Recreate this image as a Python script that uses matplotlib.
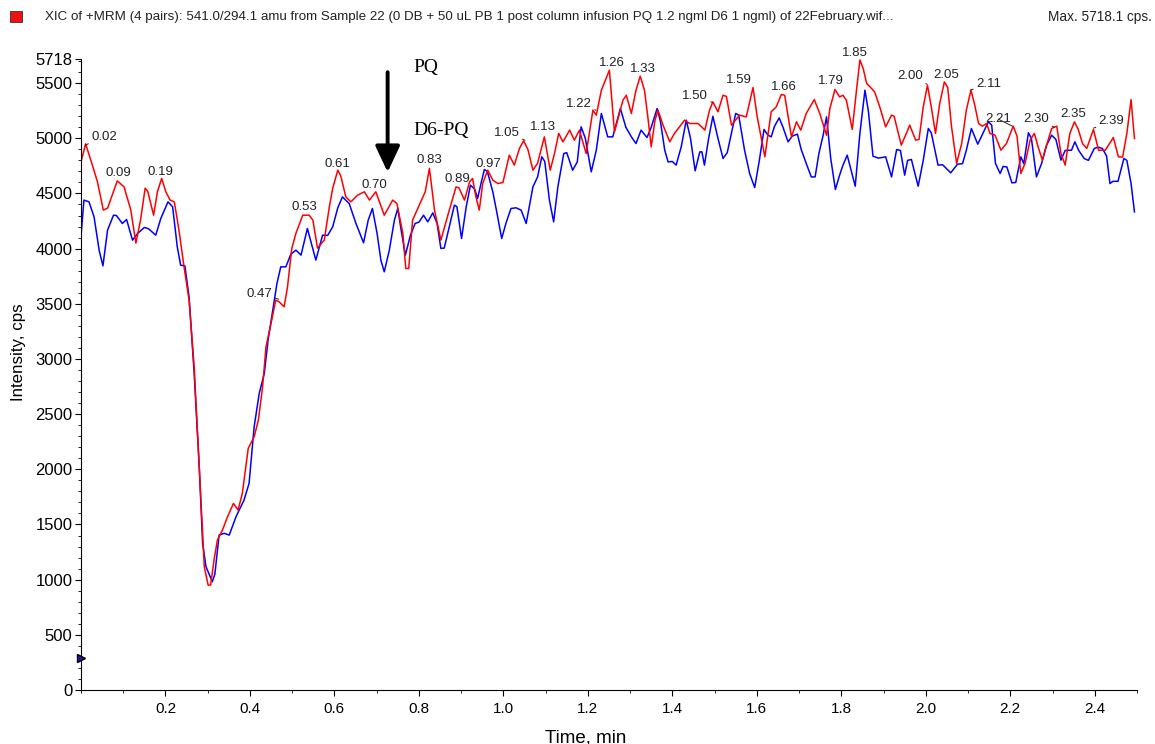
import matplotlib
matplotlib.use("Agg")
import matplotlib.pyplot as plt
from matplotlib.ticker import MultipleLocator, FixedLocator

plt.rcParams['font.family'] = ['Liberation Sans', 'DejaVu Sans']

# PQ trace (red), time in min / intensity in cps
red_t = [0.000, 0.011, 0.027, 0.039, 0.053, 0.063, 0.086, 0.102, 0.118, 0.130,
         0.141, 0.152, 0.158, 0.172, 0.181, 0.191, 0.201, 0.211, 0.221, 0.232,
         0.244, 0.256, 0.268, 0.276, 0.284, 0.292, 0.301, 0.307, 0.315, 0.323,
         0.335, 0.347, 0.361, 0.372, 0.382, 0.396, 0.410, 0.420, 0.430, 0.438,
         0.450, 0.461, 0.469, 0.481, 0.489, 0.499, 0.509, 0.525, 0.540, 0.549,
         0.560, 0.576, 0.588, 0.596, 0.608, 0.615, 0.627, 0.639, 0.655, 0.671,
         0.683, 0.698, 0.718, 0.738, 0.748, 0.762, 0.769, 0.776, 0.785, 0.801,
         0.815, 0.825, 0.837, 0.852, 0.872, 0.888, 0.895, 0.908, 0.920, 0.927,
         0.935, 0.943, 0.951, 0.963, 0.975, 0.987, 0.999, 1.014, 1.026, 1.038,
         1.048, 1.058, 1.070, 1.081, 1.097, 1.111, 1.121, 1.131, 1.141, 1.157,
         1.168, 1.180, 1.196, 1.212, 1.220, 1.232, 1.251, 1.263, 1.283, 1.291,
         1.303, 1.314, 1.324, 1.334, 1.342, 1.350, 1.359, 1.366, 1.378, 1.394,
         1.405, 1.429, 1.441, 1.461, 1.477, 1.488, 1.496, 1.508, 1.520, 1.528,
         1.540, 1.559, 1.575, 1.591, 1.601, 1.619, 1.634, 1.646, 1.658, 1.666,
         1.682, 1.694, 1.704, 1.717, 1.736, 1.749, 1.765, 1.773, 1.785, 1.796,
         1.804, 1.812, 1.826, 1.836, 1.844, 1.852, 1.860, 1.872, 1.879, 1.891,
         1.905, 1.919, 1.925, 1.942, 1.954, 1.962, 1.976, 1.984, 1.994, 2.004,
         2.013, 2.023, 2.033, 2.044, 2.052, 2.061, 2.073, 2.085, 2.096, 2.107,
         2.116, 2.125, 2.134, 2.144, 2.152, 2.164, 2.178, 2.191, 2.207, 2.216,
         2.225, 2.235, 2.247, 2.257, 2.266, 2.276, 2.286, 2.298, 2.310, 2.320,
         2.330, 2.341, 2.352, 2.361, 2.371, 2.381, 2.397, 2.409, 2.425, 2.444,
         2.456, 2.466, 2.476, 2.486, 2.494]
red_i = [4784, 4950, 4757, 4605, 4349, 4367, 4614, 4560, 4349, 4050,
         4258, 4548, 4520, 4303, 4515, 4636, 4515, 4440, 4424, 4168,
         3835, 3533, 2929, 2328, 1721, 1117, 951, 951, 1178, 1359,
         1450, 1570, 1691, 1631, 1782, 2190, 2295, 2446, 2748, 3110,
         3322, 3533, 3518, 3473, 3654, 4000, 4140, 4303, 4303, 4258,
         4005, 4077, 4379, 4548, 4711, 4660, 4469, 4424, 4485, 4515,
         4440, 4515, 4303, 4440, 4409, 4138, 3820, 3820, 4258, 4394,
         4515, 4727, 4349, 4077, 4349, 4560, 4550, 4440, 4605, 4636,
         4469, 4349, 4590, 4711, 4620, 4590, 4600, 4847, 4757, 4908,
         4977, 4900, 4711, 4774, 5013, 4711, 4862, 5044, 4968, 5074,
         4983, 5074, 4862, 5255, 5210, 5436, 5617, 5058, 5345, 5390,
         5225, 5436, 5563, 5436, 5194, 4922, 5164, 5255, 5119, 4968,
         5044, 5164, 5134, 5134, 5074, 5255, 5330, 5240, 5390, 5380,
         5119, 5210, 5194, 5460, 5194, 4832, 5240, 5285, 5397, 5390,
         5013, 5149, 5074, 5225, 5351, 5225, 5028, 5270, 5442, 5375,
         5390, 5345, 5080, 5436, 5710, 5630, 5497, 5450, 5420, 5285,
         5104, 5210, 5200, 4938, 5044, 5119, 4983, 4990, 5285, 5481,
         5285, 5044, 5315, 5511, 5460, 5104, 4772, 4953, 5255, 5436,
         5300, 5134, 5110, 5134, 5044, 5028, 4892, 4953, 5110, 5020,
         4681, 4772, 4983, 5044, 4922, 4802, 4938, 5089, 5110, 4862,
         4757, 5044, 5149, 5080, 4953, 4908, 5080, 4892, 4892, 5007,
         4832, 4830, 5044, 5351, 4998]

# D6-PQ trace (blue)
blue_t = [0.000, 0.007, 0.019, 0.031, 0.043, 0.052, 0.063, 0.077, 0.084, 0.098,
          0.108, 0.122, 0.134, 0.150, 0.160, 0.177, 0.189, 0.206, 0.217, 0.228,
          0.236, 0.246, 0.256, 0.268, 0.280, 0.288, 0.296, 0.311, 0.317, 0.327,
          0.339, 0.351, 0.367, 0.386, 0.398, 0.410, 0.422, 0.434, 0.443, 0.454,
          0.464, 0.473, 0.485, 0.497, 0.509, 0.521, 0.536, 0.551, 0.556, 0.572,
          0.584, 0.596, 0.608, 0.619, 0.635, 0.651, 0.669, 0.680, 0.690, 0.701,
          0.710, 0.718, 0.730, 0.742, 0.750, 0.758, 0.768, 0.780, 0.791, 0.800,
          0.811, 0.821, 0.833, 0.843, 0.852, 0.860, 0.872, 0.884, 0.890, 0.901,
          0.912, 0.922, 0.932, 0.939, 0.947, 0.955, 0.962, 0.975, 0.985, 0.996,
          1.006, 1.018, 1.030, 1.042, 1.054, 1.070, 1.081, 1.091, 1.098, 1.109,
          1.119, 1.129, 1.143, 1.150, 1.164, 1.175, 1.184, 1.194, 1.208, 1.220,
          1.232, 1.247, 1.259, 1.277, 1.290, 1.303, 1.314, 1.326, 1.340, 1.350,
          1.364, 1.372, 1.382, 1.390, 1.400, 1.409, 1.421, 1.433, 1.443, 1.454,
          1.465, 1.470, 1.476, 1.486, 1.496, 1.508, 1.520, 1.530, 1.550, 1.557,
          1.571, 1.583, 1.595, 1.606, 1.617, 1.626, 1.634, 1.642, 1.653, 1.662,
          1.674, 1.684, 1.696, 1.705, 1.717, 1.729, 1.738, 1.747, 1.757, 1.765,
          1.775, 1.786, 1.796, 1.804, 1.814, 1.824, 1.833, 1.844, 1.856, 1.864,
          1.875, 1.888, 1.905, 1.919, 1.931, 1.940, 1.950, 1.957, 1.966, 1.973,
          1.982, 1.994, 2.006, 2.013, 2.029, 2.040, 2.059, 2.075, 2.087, 2.096,
          2.108, 2.123, 2.131, 2.148, 2.156, 2.165, 2.176, 2.183, 2.192, 2.204,
          2.213, 2.225, 2.232, 2.243, 2.250, 2.262, 2.274, 2.286, 2.298, 2.308,
          2.320, 2.330, 2.345, 2.353, 2.362, 2.375, 2.385, 2.399, 2.408, 2.418,
          2.428, 2.436, 2.443, 2.455, 2.469, 2.476, 2.486, 2.494]
blue_i = [4107, 4440, 4424, 4288, 3986, 3844, 4168, 4303, 4300, 4228,
          4264, 4077, 4137, 4192, 4180, 4122, 4273, 4424, 4379, 4016,
          3850, 3844, 3560, 2869, 2023, 1329, 1117, 981, 1050, 1404,
          1420, 1404, 1570, 1721, 1873, 2385, 2688, 2869, 3171, 3443,
          3685, 3835, 3835, 3950, 3986, 3941, 4183, 3970, 3896, 4122,
          4120, 4198, 4370, 4469, 4409, 4228, 4053, 4258, 4364, 4138,
          3896, 3790, 3986, 4258, 4364, 4168, 3941, 4122, 4228, 4240,
          4303, 4243, 4324, 4230, 4002, 4005, 4198, 4394, 4380, 4092,
          4379, 4575, 4540, 4454, 4590, 4717, 4700, 4515, 4319, 4092,
          4228, 4364, 4370, 4349, 4228, 4560, 4650, 4832, 4790, 4440,
          4243, 4560, 4862, 4870, 4711, 4786, 5104, 5000, 4696, 4892,
          5225, 5013, 5013, 5270, 5100, 5013, 4953, 5074, 5007, 5100,
          5270, 5150, 4892, 4786, 4790, 4757, 4922, 5164, 5000, 4705,
          4877, 4877, 4757, 5000, 5200, 5000, 4817, 4870, 5225, 5210,
          4892, 4681, 4554, 4800, 5080, 5030, 5013, 5110, 5185, 5100,
          4968, 5020, 5038, 4900, 4772, 4650, 4650, 4862, 5028, 5194,
          4817, 4536, 4666, 4757, 4847, 4700, 4566, 5044, 5436, 5250,
          4838, 4820, 4832, 4650, 4898, 4890, 4666, 4800, 4808, 4700,
          4566, 4800, 5089, 5050, 4757, 4760, 4687, 4765, 4770, 4892,
          5089, 4947, 5010, 5149, 5120, 4772, 4681, 4745, 4740, 4596,
          4600, 4832, 4770, 5050, 5000, 4650, 4770, 4938, 5028, 4990,
          4802, 4890, 4892, 4968, 4890, 4817, 4800, 4908, 4920, 4908,
          4840, 4590, 4610, 4610, 4817, 4800, 4590, 4333]

# peak labels: text, text anchor (t, cps), leader target (None = no leader)
peak_labels = ["0.02", "0.09", "0.19", "0.47", "0.53", "0.61", "0.70", "0.83",
               "0.89", "0.97", "1.05", "1.13", "1.22", "1.26", "1.33", "1.50",
               "1.59", "1.66", "1.79", "1.85", "2.00", "2.05", "2.11", "2.21",
               "2.30", "2.35", "2.39"]
label_t = [0.024, 0.089, 0.188, 0.423, 0.529, 0.608, 0.695, 0.826,
           0.890, 0.965, 1.008, 1.093, 1.179, 1.257, 1.330, 1.454,
           1.558, 1.665, 1.776, 1.833, 1.963, 2.048, 2.119, 2.172,
           2.262, 2.349, 2.409]
label_i = [5010, 4684, 4693, 3588, 4376, 4766, 4575, 4802,
           4630, 4766, 5046, 5101, 5309, 5681, 5626, 5382,
           5527, 5463, 5518, 5771, 5563, 5572, 5490, 5173,
           5173, 5219, 5155]
leader_t = [0.010, None, None, 0.468, None, None, None, None,
            None, None, 1.051, 1.131, 1.219, None, None, 1.494,
            None, None, None, None, 2.003, None, 2.105, 2.205,
            2.304, None, 2.397]
leader_i = [4938, None, None, 3542, None, None, None, None,
            None, None, 4983, 5037, 5255, None, None, 5327,
            None, None, None, None, 5490, None, 5436, 5110,
            5101, None, 5092]

fig = plt.figure(figsize=(11.55, 7.44), dpi=100)
ax = fig.add_axes([0.0701, 0.0726, 0.9143, 0.848])

ax.plot(blue_t, blue_i, color='#0000ff', lw=1.1)
ax.plot(red_t, red_i, color='#ff0000', lw=1.1)

ax.set_xlim(0, 2.5)
ax.set_ylim(0, 5718)
ax.spines['top'].set_visible(False)
ax.spines['right'].set_visible(False)

ax.xaxis.set_major_locator(FixedLocator([0.2, 0.4, 0.6, 0.8, 1.0, 1.2, 1.4, 1.6,
                                         1.8, 2.0, 2.2, 2.4]))
ax.xaxis.set_minor_locator(MultipleLocator(0.1))
ax.yaxis.set_major_locator(FixedLocator(list(range(0, 5501, 500)) + [5718]))
ax.yaxis.set_minor_locator(MultipleLocator(100))
ax.tick_params(which='major', direction='out', length=4)
ax.tick_params(which='minor', direction='out', length=2.5)
ax.tick_params(axis='y', labelsize=12, pad=2)
ax.tick_params(axis='x', labelsize=11, pad=5)
ax.set_xticklabels(["0.2", "0.4", "0.6", "0.8", "1.0", "1.2", "1.4", "1.6",
                    "1.8", "2.0", "2.2", "2.4"])

ax.set_xlabel("Time, min", fontsize=13.5)
ax.xaxis.set_label_coords(0.478, -0.062)
ax.set_ylabel("Intensity, cps", fontsize=12.2)
ax.yaxis.set_label_coords(-0.052, 0.535)

for k, txt in enumerate(peak_labels):
    ha = 'left' if txt in ("0.02", "2.11", "2.39") else 'center'
    if leader_t[k] is not None:
        ax.annotate(txt, xy=(leader_t[k], leader_i[k]), xytext=(label_t[k], label_i[k]),
                    fontsize=9.5, ha=ha, va='center', color='#222222',
                    arrowprops=dict(arrowstyle='-', lw=0.7, color='#222222',
                                    shrinkA=0, shrinkB=0))
    else:
        ax.text(label_t[k], label_i[k], txt, fontsize=9.5, ha=ha, va='center',
                color='#222222')

# arrow and compound names
ax.annotate('', xy=(0.726, 4693), xytext=(0.726, 5599),
            arrowprops=dict(arrowstyle='-|>,head_width=0.75,head_length=1.6',
                            lw=2.8, color='black', shrinkA=0, shrinkB=0))
ax.text(0.787, 5640, "PQ", family='Liberation Serif', fontsize=14, va='center')
ax.text(0.787, 5074, "D6-PQ", family='Liberation Serif', fontsize=14, va='center')

# baseline marker on the y axis
ax.plot([0], [290], marker='>', color='#1a1a9a', markeredgecolor='black',
        markersize=6, clip_on=False, zorder=5)

# header
fig.patches.append(plt.Rectangle((0.0087, 0.9705), 0.0104, 0.0148, transform=fig.transFigure,
                                 facecolor='#ee1111', edgecolor='#333333', lw=0.6))
fig.text(0.039, 0.9775, "XIC of +MRM (4 pairs): 541.0/294.1 amu from Sample 22 (0 DB + 50 uL PB 1 "
         "post column infusion PQ 1.2 ngml D6 1 ngml) of 22February.wif...",
         fontsize=9.6, va='center', color='#222222')
fig.text(0.997, 0.9775, "Max. 5718.1 cps.", fontsize=9.8, va='center', ha='right',
         color='#222222')

fig.savefig("out.png", dpi=100)
